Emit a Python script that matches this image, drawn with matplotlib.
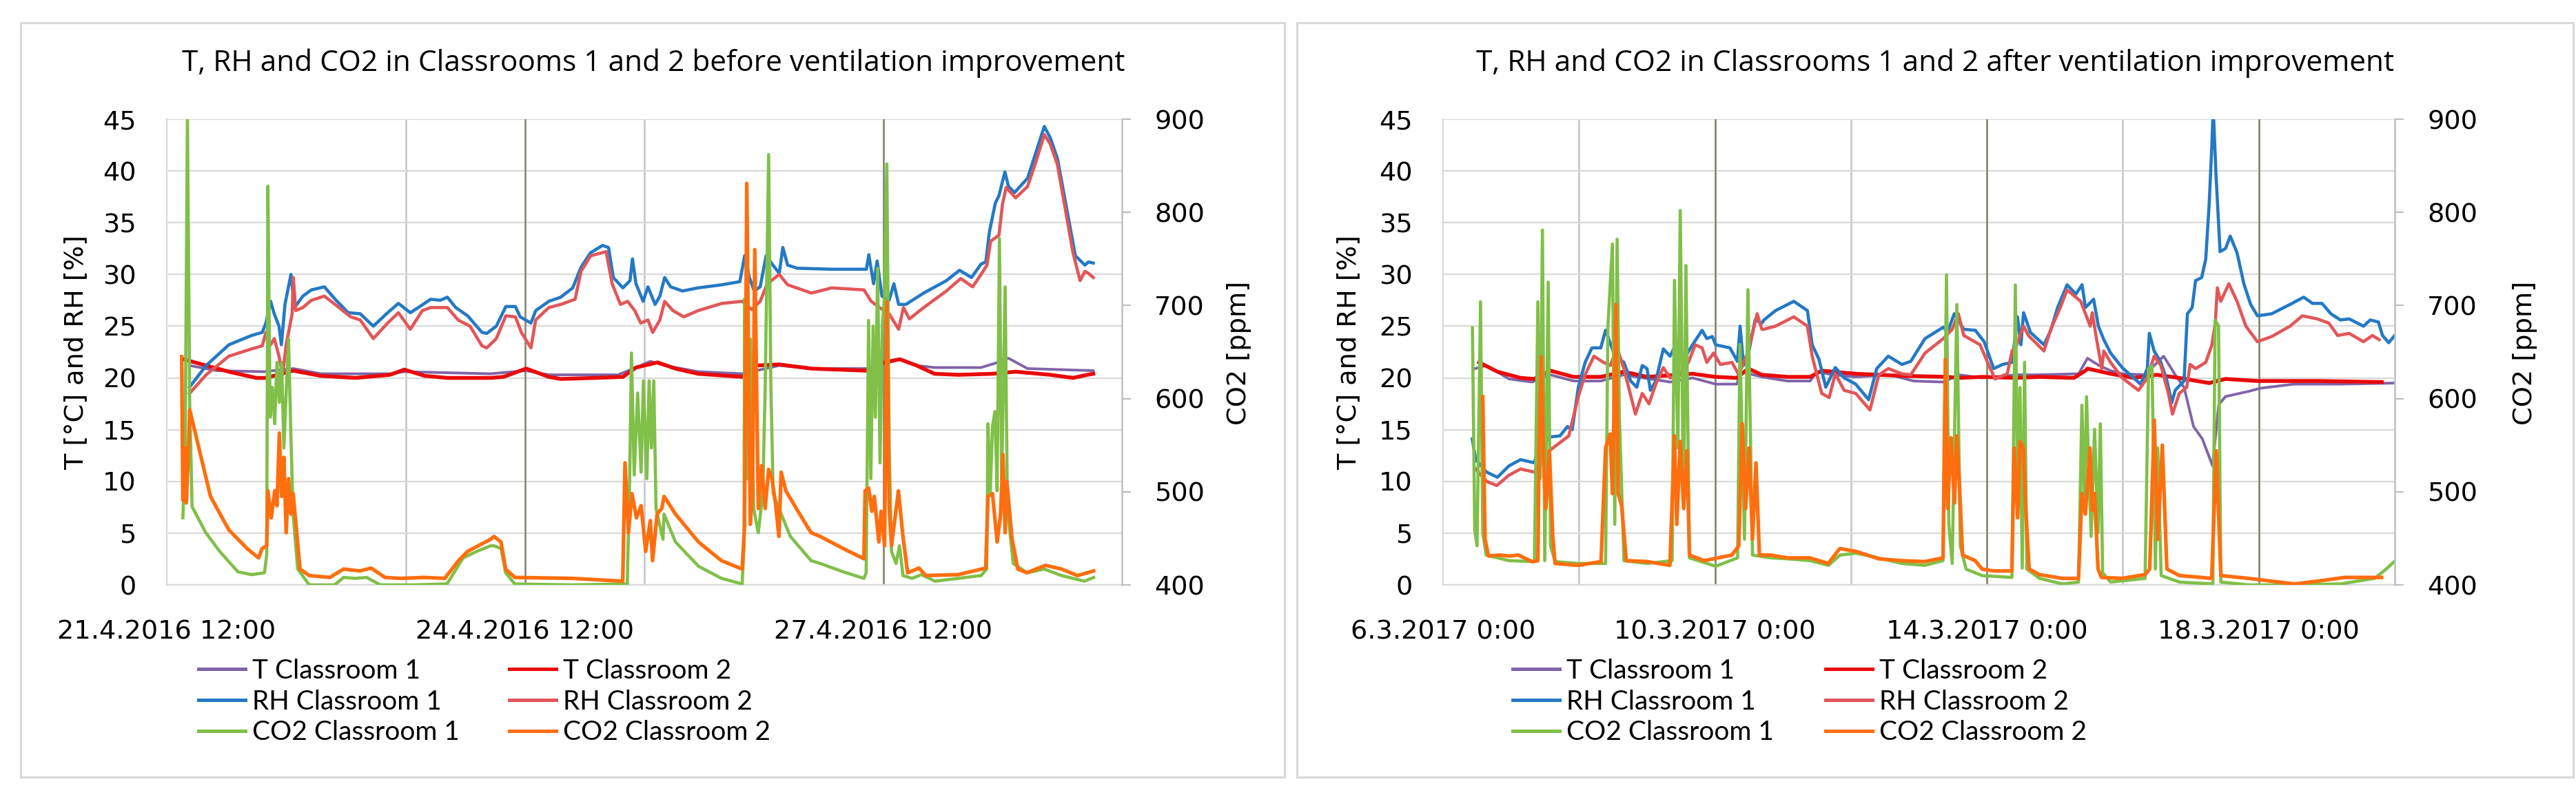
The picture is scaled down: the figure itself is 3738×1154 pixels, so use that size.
import matplotlib.pyplot as plt
from matplotlib.patches import Rectangle
from matplotlib.lines import Line2D
import numpy as np

# ---------------- data: before improvement (days after 21.4.2016 12:00) ----------------
before_t1 = [(0.19, 21.2), (0.42, 20.7), (0.81, 20.6), (1.06, 20.9), (1.29, 20.4), (1.87, 20.4),
             (1.99, 20.6), (2.71, 20.4), (3.01, 20.7), (3.20, 20.3), (3.78, 20.3), (3.97, 21.2),
             (4.05, 21.6), (4.17, 21.2), (4.45, 20.6), (4.82, 20.4), (5.13, 21.2), (5.40, 20.9),
             (5.86, 20.9), (6.14, 21.8), (6.28, 21.2), (6.43, 21.0), (6.82, 21.0), (6.96, 21.5),
             (7.05, 21.9), (7.21, 20.9), (7.76, 20.7)]
before_t2 = [(0.14, 21.8), (0.33, 21.2), (0.52, 20.6), (0.75, 20.0), (0.83, 20.0), (1.06, 20.7),
             (1.29, 20.2), (1.58, 20.0), (1.87, 20.3), (1.99, 20.8), (2.16, 20.2), (2.35, 20.0),
             (2.71, 20.0), (2.82, 20.1), (3.01, 20.9), (3.20, 20.1), (3.30, 19.9), (3.59, 20.0),
             (3.82, 20.1), (3.93, 21.0), (4.11, 21.5), (4.26, 20.9), (4.45, 20.4), (4.82, 20.1),
             (4.94, 21.2), (5.13, 21.3), (5.40, 20.9), (5.86, 20.7), (6.01, 21.5), (6.14, 21.8),
             (6.28, 21.2), (6.43, 20.4), (6.63, 20.3), (6.92, 20.4), (7.11, 20.6), (7.40, 20.3),
             (7.59, 20.0), (7.71, 20.3), (7.76, 20.4)]
before_rh1 = [(0.19, 19.1), (0.33, 21.2), (0.52, 23.2), (0.71, 24.1), (0.80, 24.4), (0.83, 25.3),
              (0.87, 27.4), (0.90, 26.2), (0.94, 25.0), (0.96, 23.2), (0.99, 27.1), (1.04, 30.0),
              (1.07, 26.8), (1.14, 27.9), (1.21, 28.5), (1.32, 28.8), (1.41, 27.6), (1.52, 26.3),
              (1.62, 26.2), (1.73, 25.0), (1.85, 26.3), (1.94, 27.2), (2.04, 26.3), (2.12, 26.9),
              (2.21, 27.6), (2.29, 27.5), (2.35, 27.8), (2.42, 26.8), (2.52, 26.0), (2.64, 24.4),
              (2.68, 24.3), (2.76, 25.0), (2.84, 26.9), (2.92, 26.9), (2.96, 25.9), (3.05, 25.3),
              (3.09, 26.5), (3.20, 27.4), (3.30, 27.8), (3.40, 28.7), (3.47, 30.7), (3.55, 32.1),
              (3.65, 32.8), (3.70, 32.6), (3.74, 29.7), (3.82, 28.7), (3.88, 29.4), (3.90, 31.5),
              (3.93, 29.1), (3.99, 27.4), (4.03, 28.8), (4.09, 27.1), (4.13, 27.9), (4.17, 29.7),
              (4.22, 28.8), (4.32, 28.4), (4.45, 28.7), (4.65, 29.0), (4.80, 29.3), (4.84, 31.8),
              (4.88, 29.7), (4.92, 28.4), (4.97, 28.8), (5.02, 31.8), (5.09, 30.7), (5.13, 30.1),
              (5.16, 32.6), (5.20, 30.9), (5.28, 30.6), (5.57, 30.5), (5.86, 30.5), (5.88, 31.9),
              (5.92, 29.1), (5.95, 31.3), (5.99, 27.9), (6.05, 27.5), (6.09, 29.1), (6.13, 27.1),
              (6.19, 27.1), (6.34, 28.2), (6.53, 29.4), (6.64, 30.4), (6.74, 29.7), (6.82, 31.0),
              (6.86, 31.2), (6.89, 34.1), (6.94, 36.9), (6.97, 37.6), (7.02, 39.9), (7.05, 38.5),
              (7.10, 37.9), (7.21, 39.3), (7.28, 41.8), (7.35, 44.3), (7.40, 43.2), (7.46, 41.2),
              (7.61, 31.8), (7.69, 30.9), (7.72, 31.2), (7.76, 31.1)]
before_rh2 = [(0.19, 18.5), (0.33, 20.3), (0.52, 22.1), (0.71, 22.8), (0.80, 23.1), (0.83, 24.4),
              (0.87, 23.2), (0.90, 23.8), (0.94, 22.1), (0.97, 20.3), (1.00, 23.2), (1.05, 26.2),
              (1.06, 29.7), (1.08, 26.5), (1.14, 26.8), (1.21, 27.5), (1.32, 27.9), (1.41, 27.1),
              (1.54, 25.9), (1.62, 25.6), (1.73, 23.8), (1.85, 25.3), (1.94, 26.3), (2.04, 24.7),
              (2.14, 26.5), (2.21, 26.8), (2.35, 26.8), (2.44, 25.6), (2.54, 25.0), (2.64, 23.1),
              (2.68, 22.9), (2.76, 23.8), (2.84, 26.0), (2.92, 25.9), (2.97, 24.4), (3.05, 22.9),
              (3.09, 25.6), (3.20, 26.8), (3.30, 27.1), (3.42, 27.6), (3.47, 30.3), (3.55, 31.8),
              (3.68, 32.2), (3.73, 29.1), (3.80, 27.1), (3.86, 27.4), (3.92, 26.5), (3.97, 25.3),
              (4.03, 25.6), (4.07, 24.4), (4.13, 25.6), (4.17, 27.4), (4.24, 26.5), (4.33, 25.9),
              (4.45, 26.5), (4.65, 27.2), (4.82, 27.4), (4.90, 26.6), (4.97, 27.4), (5.03, 29.1),
              (5.13, 30.0), (5.20, 29.0), (5.40, 28.2), (5.57, 28.7), (5.84, 28.5), (5.90, 27.4),
              (5.97, 26.8), (6.05, 26.2), (6.13, 24.7), (6.17, 26.8), (6.22, 25.7), (6.34, 26.8),
              (6.53, 28.4), (6.65, 29.6), (6.75, 28.8), (6.82, 30.0), (6.87, 30.9), (6.90, 33.2),
              (6.97, 33.8), (7.00, 36.8), (7.03, 38.4), (7.11, 37.4), (7.21, 38.5), (7.28, 40.9),
              (7.35, 43.5), (7.40, 42.6), (7.46, 40.6), (7.59, 32.1), (7.65, 29.4), (7.69, 30.3),
              (7.72, 30.1), (7.76, 29.7)]
before_co2_1 = [(0.135, 472), (0.154, 547), (0.173, 905), (0.192, 596), (0.212, 484), (0.327, 456),
                (0.443, 436), (0.596, 414), (0.712, 411), (0.818, 413), (0.837, 432), (0.847, 828),
                (0.866, 580), (0.885, 612), (0.904, 573), (0.923, 639), (0.943, 596), (0.962, 639),
                (0.981, 547), (1.000, 606), (1.020, 664), (1.039, 563), (1.058, 476), (1.097, 417),
                (1.193, 400), (1.405, 400), (1.481, 408), (1.578, 407), (1.674, 408), (1.789, 400),
                (2.059, 400), (2.347, 401), (2.482, 429), (2.597, 436), (2.713, 442), (2.741, 442),
                (2.800, 439), (2.838, 413), (2.915, 401), (3.396, 400), (3.857, 401), (3.877, 514),
                (3.892, 649), (3.915, 518), (3.944, 606), (3.973, 521), (3.992, 619), (4.021, 514),
                (4.040, 619), (4.059, 547), (4.079, 619), (4.098, 482), (4.127, 465), (4.156, 449),
                (4.165, 476), (4.261, 446), (4.454, 420), (4.646, 407), (4.819, 401), (4.835, 442),
                (4.839, 707), (4.867, 514), (4.887, 664), (4.916, 482), (4.954, 456), (4.992, 498),
                (5.012, 612), (5.041, 862), (5.060, 612), (5.079, 498), (5.127, 482), (5.223, 452),
                (5.397, 426), (5.473, 423), (5.666, 414), (5.839, 407), (5.858, 413), (5.878, 684),
                (5.897, 514), (5.916, 678), (5.935, 580), (5.954, 740), (5.974, 531), (5.993, 678),
                (6.012, 710), (6.031, 852), (6.051, 547), (6.070, 436), (6.108, 423), (6.137, 442),
                (6.166, 410), (6.243, 407), (6.320, 411), (6.435, 404), (6.628, 407), (6.820, 410),
                (6.868, 417), (6.878, 573), (6.897, 498), (6.916, 570), (6.936, 586), (6.955, 501),
                (6.974, 772), (6.993, 514), (7.022, 720), (7.041, 482), (7.090, 423), (7.205, 413),
                (7.349, 417), (7.494, 410), (7.686, 404), (7.763, 408)]
before_co2_2 = [(0.125, 645), (0.135, 491), (0.154, 547), (0.164, 488), (0.183, 550), (0.192, 588),
                (0.269, 547), (0.366, 495), (0.520, 459), (0.673, 439), (0.769, 429), (0.798, 439),
                (0.837, 442), (0.847, 501), (0.875, 472), (0.904, 501), (0.923, 485), (0.943, 563),
                (0.962, 495), (0.981, 537), (1.000, 456), (1.020, 514), (1.039, 476), (1.058, 498),
                (1.077, 472), (1.116, 417), (1.193, 410), (1.366, 408), (1.481, 417), (1.616, 415),
                (1.712, 418), (1.828, 408), (1.962, 407), (2.155, 408), (2.328, 407), (2.443, 426),
                (2.520, 436), (2.713, 449), (2.741, 452), (2.799, 446), (2.838, 417), (2.915, 408),
                (3.396, 407), (3.819, 404), (3.838, 531), (3.867, 456), (3.896, 498), (3.934, 472),
                (3.973, 485), (4.011, 436), (4.050, 469), (4.069, 426), (4.107, 476), (4.146, 482),
                (4.165, 495), (4.261, 476), (4.454, 446), (4.646, 426), (4.819, 417), (4.839, 462),
                (4.858, 831), (4.887, 465), (4.906, 498), (4.925, 760), (4.954, 482), (4.983, 528),
                (5.012, 482), (5.041, 524), (5.069, 514), (5.098, 488), (5.127, 452), (5.146, 521),
                (5.185, 501), (5.320, 472), (5.397, 456), (5.473, 452), (5.666, 439), (5.839, 428),
                (5.849, 501), (5.878, 504), (5.906, 479), (5.926, 495), (5.964, 446), (5.983, 479),
                (6.012, 442), (6.031, 704), (6.051, 482), (6.070, 442), (6.128, 501), (6.166, 452),
                (6.205, 413), (6.301, 418), (6.358, 410), (6.628, 411), (6.859, 418), (6.878, 495),
                (6.916, 498), (6.955, 446), (6.984, 476), (7.003, 540), (7.022, 456), (7.036, 511),
                (7.080, 449), (7.128, 417), (7.205, 413), (7.359, 421), (7.494, 417), (7.628, 410),
                (7.763, 415)]

# ---------------- data: after improvement (days after 6.3.2017 0:00) ----------------
after_t1 = [(0.47, 20.9), (0.64, 21.2), (0.97, 19.9), (1.31, 19.6), (1.58, 20.3), (1.92, 19.7),
            (2.32, 19.7), (2.66, 20.3), (3.34, 19.6), (3.67, 20.0), (4.01, 19.4), (4.32, 19.4),
            (4.38, 20.6), (4.69, 20.1), (5.06, 19.7), (5.40, 19.7), (5.50, 20.6), (5.73, 20.3),
            (6.07, 20.1), (6.58, 20.3), (6.92, 19.7), (7.36, 19.6), (7.59, 20.3), (7.93, 20.0),
            (8.44, 20.3), (8.77, 20.3), (9.35, 20.4), (9.48, 21.9), (9.65, 21.2), (9.82, 20.7),
            (9.99, 20.4), (10.33, 20.3), (10.46, 21.2), (10.60, 22.1), (10.77, 20.3), (10.90, 19.1),
            (11.04, 15.3), (11.17, 14.1), (11.32, 11.5), (11.41, 17.4), (11.51, 18.2), (11.85, 18.7),
            (12.02, 19.0), (12.52, 19.4), (13.20, 19.4), (14.00, 19.5)]
after_t2 = [(0.53, 21.5), (0.80, 20.6), (1.14, 20.0), (1.34, 19.9), (1.58, 20.7), (1.92, 20.1),
            (2.32, 20.1), (2.66, 20.6), (3.00, 20.1), (3.67, 20.4), (4.01, 20.1), (4.32, 20.0),
            (4.49, 20.9), (4.69, 20.3), (5.06, 20.1), (5.40, 20.1), (5.57, 20.7), (6.07, 20.4),
            (6.75, 20.2), (7.42, 20.1), (7.59, 20.0), (7.93, 20.1), (8.44, 20.0), (8.77, 20.1),
            (9.28, 20.0), (9.45, 20.7), (9.48, 20.9), (9.82, 20.4), (10.16, 20.0), (10.50, 20.3),
            (10.83, 20.0), (11.27, 19.5), (11.51, 19.9), (11.98, 19.7), (12.86, 19.7), (13.81, 19.6)]
after_rh1 = [(0.43, 14.1), (0.48, 12.1), (0.64, 10.9), (0.80, 10.4), (0.97, 11.5), (1.14, 12.1),
             (1.34, 11.8), (1.41, 13.2), (1.58, 14.3), (1.72, 14.4), (1.83, 15.3), (1.90, 15.0),
             (1.99, 19.1), (2.09, 21.5), (2.19, 22.9), (2.32, 22.9), (2.39, 24.6), (2.53, 22.1),
             (2.66, 21.5), (2.76, 19.7), (2.85, 19.1), (2.93, 21.2), (3.00, 20.9), (3.05, 18.8),
             (3.13, 19.7), (3.24, 22.8), (3.34, 22.1), (3.40, 22.9), (3.57, 22.1), (3.67, 23.2),
             (3.81, 24.6), (3.88, 23.8), (3.96, 24.0), (4.01, 23.2), (4.22, 22.9), (4.33, 21.6),
             (4.37, 25.0), (4.42, 21.2), (4.50, 22.6), (4.59, 25.6), (4.69, 25.3), (4.72, 25.6),
             (4.89, 26.5), (5.16, 27.4), (5.36, 26.5), (5.43, 23.2), (5.53, 21.8), (5.63, 19.1),
             (5.77, 21.0), (5.90, 20.0), (6.07, 19.4), (6.26, 17.9), (6.38, 20.9), (6.55, 22.1),
             (6.75, 21.3), (6.88, 21.6), (7.09, 23.8), (7.36, 24.9), (7.42, 24.4), (7.52, 26.2),
             (7.66, 24.7), (7.83, 24.6), (7.96, 23.5), (8.10, 20.9), (8.23, 21.3), (8.37, 21.5),
             (8.45, 25.9), (8.50, 23.2), (8.54, 26.3), (8.64, 24.4), (8.84, 23.2), (8.94, 24.6),
             (9.04, 26.8), (9.18, 29.0), (9.31, 28.1), (9.40, 29.0), (9.45, 26.8), (9.57, 27.6),
             (9.64, 25.0), (9.72, 23.7), (9.82, 22.4), (9.99, 21.0), (10.16, 20.0), (10.26, 19.4),
             (10.36, 20.9), (10.39, 24.3), (10.46, 22.6), (10.56, 21.5), (10.65, 19.7), (10.72, 17.6),
             (10.77, 18.8), (10.90, 19.7), (10.95, 26.2), (11.02, 26.8), (11.07, 29.4), (11.16, 29.7),
             (11.22, 31.5), (11.27, 36.8), (11.31, 42.6), (11.33, 46.0), (11.37, 39.7), (11.43, 32.2),
             (11.51, 32.5), (11.58, 33.7), (11.68, 32.1), (11.78, 29.1), (11.88, 27.1), (11.98, 26.0),
             (12.19, 26.2), (12.46, 27.1), (12.66, 27.8), (12.79, 27.2), (12.93, 27.2), (13.06, 26.2),
             (13.20, 25.6), (13.33, 25.7), (13.54, 25.0), (13.64, 25.6), (13.76, 25.4), (13.82, 24.1),
             (13.91, 23.4), (14.00, 24.1)]
after_rh2 = [(0.48, 11.2), (0.64, 10.0), (0.79, 9.6), (0.97, 10.6), (1.14, 11.2), (1.34, 10.9),
             (1.55, 12.9), (1.65, 13.4), (1.85, 14.4), (1.99, 18.2), (2.09, 20.3), (2.22, 22.1),
             (2.36, 21.5), (2.46, 21.2), (2.56, 22.9), (2.66, 20.9), (2.83, 16.5), (2.93, 18.5),
             (3.03, 17.5), (3.13, 19.4), (3.24, 21.0), (3.34, 20.0), (3.47, 20.3), (3.61, 21.5),
             (3.71, 23.2), (3.81, 22.9), (3.88, 21.5), (3.98, 22.4), (4.08, 21.3), (4.25, 21.5),
             (4.35, 20.3), (4.49, 22.6), (4.62, 26.2), (4.69, 24.7), (4.72, 24.7), (4.89, 25.0),
             (5.16, 25.9), (5.36, 25.0), (5.43, 22.1), (5.57, 18.5), (5.68, 18.1), (5.77, 20.4),
             (5.90, 18.8), (6.07, 18.5), (6.28, 16.9), (6.41, 20.3), (6.55, 20.9), (6.75, 20.4),
             (6.88, 20.3), (7.09, 22.4), (7.36, 23.8), (7.49, 24.7), (7.58, 26.2), (7.66, 24.1),
             (7.90, 23.2), (8.03, 21.2), (8.12, 19.9), (8.30, 20.4), (8.37, 22.6), (8.44, 23.2),
             (8.54, 25.0), (8.61, 24.1), (8.84, 22.6), (8.94, 24.7), (9.08, 26.8), (9.18, 28.5),
             (9.38, 27.4), (9.52, 25.0), (9.55, 26.3), (9.62, 23.5), (9.69, 20.9), (9.72, 22.6),
             (9.82, 21.5), (9.99, 20.0), (10.23, 18.8), (10.36, 20.0), (10.46, 22.1), (10.56, 21.2),
             (10.67, 18.5), (10.73, 16.5), (10.83, 18.5), (10.94, 19.1), (10.99, 21.3), (11.07, 20.9),
             (11.22, 21.5), (11.31, 23.2), (11.36, 25.3), (11.39, 28.7), (11.44, 27.4), (11.56, 29.1),
             (11.68, 27.4), (11.81, 25.0), (11.98, 23.5), (12.19, 24.0), (12.46, 25.0), (12.64, 26.0),
             (12.86, 25.7), (13.03, 25.3), (13.16, 24.1), (13.33, 24.3), (13.54, 23.5), (13.67, 24.1),
             (13.77, 23.7)]
after_co2_1 = [(0.432, 676), (0.466, 459), (0.500, 442), (0.551, 704), (0.584, 456), (0.635, 432),
               (0.973, 426), (1.344, 425), (1.395, 704), (1.429, 514), (1.462, 781), (1.496, 426),
               (1.547, 725), (1.581, 442), (1.648, 425), (1.986, 423), (2.391, 423), (2.425, 678),
               (2.492, 766), (2.526, 465), (2.560, 771), (2.594, 580), (2.661, 426), (2.999, 423),
               (3.370, 426), (3.404, 727), (3.455, 547), (3.489, 802), (3.539, 482), (3.573, 743),
               (3.624, 429), (4.012, 420), (4.333, 429), (4.367, 658), (4.434, 449), (4.485, 717),
               (4.552, 432), (4.823, 429), (5.060, 428), (5.400, 426), (5.670, 421), (5.840, 432),
               (6.070, 434), (6.280, 431), (6.750, 423), (7.090, 421), (7.355, 426), (7.406, 733),
               (7.440, 465), (7.490, 423), (7.558, 701), (7.609, 442), (7.693, 417), (7.929, 410),
               (8.368, 408), (8.419, 722), (8.453, 482), (8.487, 612), (8.520, 418), (8.554, 639),
               (8.588, 417), (8.774, 407), (9.111, 401), (9.348, 403), (9.398, 593), (9.432, 482),
               (9.466, 602), (9.500, 520), (9.534, 452), (9.584, 567), (9.635, 456), (9.669, 573),
               (9.703, 413), (9.821, 403), (10.327, 407), (10.378, 632), (10.429, 635), (10.479, 417),
               (10.513, 547), (10.564, 410), (10.834, 403), (11.324, 401), (11.357, 684), (11.408, 678),
               (11.442, 403), (11.847, 400), (12.523, 400), (13.198, 401), (13.705, 407), (13.873, 417),
               (14.008, 426)]
after_co2_2 = [(0.584, 602), (0.618, 449), (0.669, 431), (0.838, 432), (0.973, 431), (1.108, 432),
               (1.310, 425), (1.395, 426), (1.412, 547), (1.445, 645), (1.479, 531), (1.513, 482),
               (1.564, 544), (1.614, 452), (1.648, 423), (1.986, 421), (2.324, 425), (2.391, 547),
               (2.459, 562), (2.492, 498), (2.543, 701), (2.577, 498), (2.627, 485), (2.695, 426),
               (2.999, 425), (3.337, 421), (3.404, 560), (3.438, 465), (3.489, 554), (3.539, 482),
               (3.590, 544), (3.624, 432), (3.843, 426), (4.248, 432), (4.350, 442), (4.401, 573),
               (4.451, 482), (4.502, 547), (4.552, 449), (4.603, 531), (4.654, 432), (4.823, 432),
               (5.059, 429), (5.396, 429), (5.667, 423), (5.836, 439), (6.072, 436), (6.410, 428),
               (6.747, 426), (7.085, 425), (7.355, 429), (7.389, 642), (7.423, 482), (7.473, 558),
               (7.524, 488), (7.558, 560), (7.592, 514), (7.642, 432), (7.828, 426), (7.929, 417),
               (8.098, 415), (8.368, 415), (8.402, 547), (8.453, 472), (8.487, 554), (8.537, 547),
               (8.571, 482), (8.622, 417), (8.774, 411), (9.111, 407), (9.348, 407), (9.398, 498),
               (9.449, 476), (9.517, 547), (9.550, 480), (9.584, 498), (9.635, 417), (9.686, 408),
               (9.990, 407), (10.327, 411), (10.395, 417), (10.462, 577), (10.513, 449), (10.581, 550),
               (10.648, 417), (10.834, 410), (11.307, 407), (11.374, 544), (11.442, 410), (11.847, 407),
               (12.523, 401), (12.860, 404), (13.265, 408), (13.705, 408), (13.806, 408)]

before_tick_days = [0, 3, 6]
before_tick_labels = ["21.4.2016 12:00", "24.4.2016 12:00", "27.4.2016 12:00"]
after_tick_days = [0, 4, 8, 12]
after_tick_labels = ["6.3.2017 0:00", "10.3.2017 0:00", "14.3.2017 0:00", "18.3.2017 0:00"]

series_names = ["T Classroom 1", "T Classroom 2", "RH Classroom 1", "RH Classroom 2",
                "CO2 Classroom 1", "CO2 Classroom 2"]
series_colors = ["#8064A8", "#EA0A0A", "#2479C4", "#E25658", "#80BF48", "#FF6E0E"]
series_widths = [2.8, 4.0, 3.3, 3.3, 3.3, 3.8]

W, H = 3738, 1154
TITLE_FONT = ["Open Sans", "DejaVu Sans"]
LEGEND_FONT = ["Lato", "DejaVu Sans"]
TICK_FONT = "DejaVu Sans"


def fx(px):
    return px / W


def fy(py):
    return 1 - py / H


def draw_panel(fig, frame, plot_px, title, title_x, temp, rh, co2, xmax, tick_days,
               tick_labels, ylab_x, co2lab_x, legend_x):
    x0, y0, x1, y1 = frame
    fig.add_artist(Rectangle((fx(x0), fy(y1)), fx(x1 - x0), (y1 - y0) / H,
                             transform=fig.transFigure, fill=False,
                             edgecolor="#D9D9D9", linewidth=2.2))
    px0, py0, px1, py1 = plot_px
    ax = fig.add_axes([fx(px0), fy(py1), fx(px1 - px0), (py1 - py0) / H])
    ax.set_xlim(0, xmax)
    ax.set_ylim(0, 45)
    ax.set_yticks(np.arange(0, 46, 5))
    ax.yaxis.grid(True, color="#D9D9D9", linewidth=1.6)
    ax.set_axisbelow(True)
    for d in np.arange(2, xmax, 2):
        ax.axvline(d, color="#C4C4C4", linewidth=1.8, zorder=0.5)
    for d in tick_days[1:]:
        ax.axvline(d, color="#8A8672", linewidth=1.9, zorder=0.6)
    ax.set_xticks(tick_days)
    ax.set_xticklabels(tick_labels)
    for s in ["top", "right"]:
        ax.spines[s].set_visible(False)
    for s in ["left", "bottom"]:
        ax.spines[s].set_color("#D9D9D9")
        ax.spines[s].set_linewidth(1.6)
    ax.tick_params(axis="y", length=0, pad=32, labelsize=27.5)
    ax.tick_params(axis="x", length=0, pad=36, labelsize=27.5)

    for i, data in enumerate(temp + rh):
        d, v = zip(*data)
        ax.plot(d, v, color=series_colors[i], linewidth=series_widths[i],
                solid_joinstyle="round")

    ax2 = ax.twinx()
    ax2.set_ylim(400, 900)
    ax2.set_yticks(np.arange(400, 901, 100))
    for i, data in enumerate(co2):
        d, v = zip(*data)
        ax2.plot(d, v, color=series_colors[4 + i], linewidth=series_widths[4 + i],
                 solid_joinstyle="round")
    for s in ["top", "left", "bottom"]:
        ax2.spines[s].set_visible(False)
    ax2.spines["right"].set_color("#BFBFBF")
    ax2.spines["right"].set_linewidth(1.8)
    ax2.tick_params(axis="y", direction="out", length=9, width=1.6, color="#BFBFBF",
                    pad=25, labelsize=27.5)

    for lab in ax.get_xticklabels() + ax.get_yticklabels() + ax2.get_yticklabels():
        lab.set_family(TICK_FONT)

    fig.text(fx(title_x), fy(92), title, ha="center", va="center", fontsize=30.5,
             family=TITLE_FONT)
    fig.text(fx(ylab_x), fy(512), "T [°C] and RH [%]", rotation=90, ha="center",
             va="center", fontsize=27.5, family=TICK_FONT)
    fig.text(fx(co2lab_x), fy(512), "CO2 [ppm]", rotation=90, ha="center",
             va="center", fontsize=27.5, family=TICK_FONT)

    # two legend columns, filled row by row like the original
    for col in range(2):
        hs = [Line2D([], [], color=series_colors[col + 2 * r], linewidth=3.6)
              for r in range(3)]
        labels = [series_names[col + 2 * r] for r in range(3)]
        fig.legend(hs, labels, loc="upper left",
                   bbox_to_anchor=(fx(legend_x[col]), fy(956)),
                   frameon=False, ncol=1, borderpad=0, borderaxespad=0,
                   handlelength=1.75, handletextpad=0.25, labelspacing=0.22,
                   prop={"family": LEGEND_FONT, "size": 28})
    return ax


def main():
    fig = plt.figure(figsize=(W / 100, H / 100), dpi=100)
    draw_panel(fig, (30, 33, 1864, 1128), (242, 173, 1628, 849),
               "T, RH and CO2 in Classrooms 1 and 2 before ventilation improvement", 948,
               [before_t1, before_t2], [before_rh1, before_rh2], [before_co2_1, before_co2_2],
               8, before_tick_days, before_tick_labels, 110, 1798, (288, 739))
    draw_panel(fig, (1882, 33, 3734, 1128), (2094, 173, 3475, 849),
               "T, RH and CO2 in Classrooms 1 and 2 after ventilation improvement", 2808,
               [after_t1, after_t2], [after_rh1, after_rh2], [after_co2_1, after_co2_2],
               14, after_tick_days, after_tick_labels, 1957, 3664, (2195, 2649))
    fig.savefig("out.png", dpi=100)


if __name__ == "__main__":
    main()
